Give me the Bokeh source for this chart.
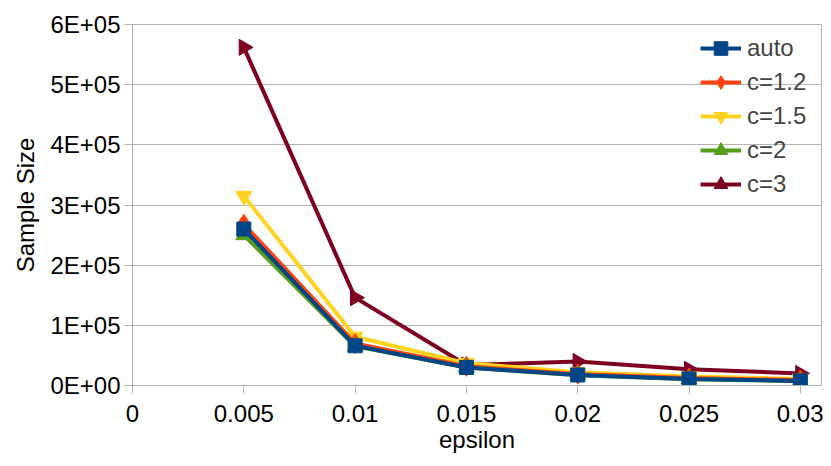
from bokeh.plotting import figure
from bokeh.models import FixedTicker, Range1d, ColumnDataSource
from bokeh.embed import file_html
from bokeh.resources import INLINE

epsilon = [0.005, 0.01, 0.015, 0.02, 0.025, 0.03]
auto = [260000, 66000, 30000, 17500, 11000, 7500]
c12 = [268000, 70000, 32000, 19000, 12500, 9000]
c15 = [315000, 81000, 37000, 22000, 15000, 11000]
c2 = [250000, 65000, 30000, 17000, 10500, 7000]
c3 = [562000, 146000, 34000, 40000, 27000, 20000]

x_ticks = [0, 0.005, 0.01, 0.015, 0.02, 0.025, 0.03]
x_labels = ["0", "0.005", "0.01", "0.015", "0.02", "0.025", "0.03"]
y_ticks = [0, 100000, 200000, 300000, 400000, 500000, 600000]
y_labels = ["0E+00", "1E+05", "2E+05", "3E+05", "4E+05", "5E+05", "6E+05"]

FONT = "Liberation Sans"
FS = "24px"
GRID = "#b3b3b3"

p = figure(width=823, height=458, output_backend="svg", toolbar_location=None,
           x_range=Range1d(0, 0.03095), y_range=Range1d(0, 600000),
           min_border_left=132, min_border_right=2, min_border_top=24, min_border_bottom=73)
p.outline_line_color = GRID
p.background_fill_color = "white"

series = {
    "auto": (auto, "#004586", "square", 14, 0.0),
    "c=1.2": (c12, "#ff420e", "diamond", 20, 0.0),
    "c=1.5": (c15, "#ffd320", "inverted_triangle", 16, 0.0),
    "c=2": (c2, "#579d1c", "triangle", 16, 0.0),
    "c=3": (c3, "#7e0021", "triangle", 16, -1.5708),
}
draw_order = ["c=3", "c=1.5", "c=1.2", "c=2", "auto"]
for name in draw_order:
    ys, color, marker, size, ang = series[name]
    src = ColumnDataSource(dict(x=epsilon, y=ys, a=[ang] * len(ys)))
    p.line("x", "y", source=src, line_color=color, line_width=4, legend_label=name)
    p.scatter("x", "y", source=src, marker=marker, angle="a", size=size,
              fill_color=color, line_color=color, legend_label=name)

order = ["auto", "c=1.2", "c=1.5", "c=2", "c=3"]
items = {it.label.value: it for it in p.legend[0].items}
p.legend[0].items = [items[n] for n in order]

p.xaxis.ticker = FixedTicker(ticks=x_ticks)
p.xaxis.major_label_overrides = {t: l for t, l in zip(x_ticks, x_labels)}
p.yaxis.ticker = FixedTicker(ticks=y_ticks)
p.yaxis.major_label_overrides = {t: l for t, l in zip(y_ticks, y_labels)}

for ax in (p.xaxis[0], p.yaxis[0]):
    ax.axis_line_color = GRID
    ax.major_tick_line_color = GRID
    ax.minor_tick_line_color = None
    ax.major_tick_in = 0
    ax.major_tick_out = 8
    ax.major_label_text_font = FONT
    ax.major_label_text_font_size = FS
    ax.major_label_text_color = "black"
    ax.axis_label_text_font = FONT
    ax.axis_label_text_font_size = FS
    ax.axis_label_text_font_style = "normal"
    ax.axis_label_text_color = "black"

p.xaxis.axis_label = "epsilon"
p.yaxis.axis_label = "Sample Size"
p.xaxis.major_label_standoff = 11
p.yaxis.major_label_standoff = 4
p.xaxis.axis_label_standoff = 1
p.yaxis.axis_label_standoff = 8

p.xgrid.grid_line_color = None
p.ygrid.grid_line_color = GRID
p.ygrid.grid_line_width = 1

lg = p.legend[0]
lg.location = (568, 184)
lg.border_line_color = None
lg.background_fill_alpha = 0
lg.label_text_font = FONT
lg.label_text_font_size = FS
lg.glyph_width = 41
lg.glyph_height = 34
lg.spacing = 0
lg.padding = 4
lg.margin = 0
lg.label_standoff = 6

open("out.html", "w").write(file_html(p, INLINE))
